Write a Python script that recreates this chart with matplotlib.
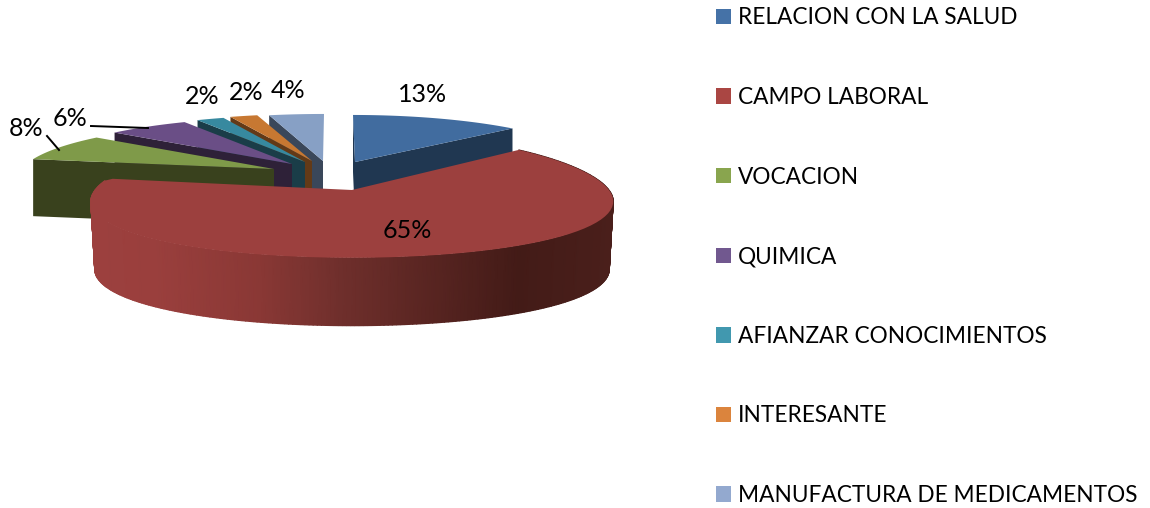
import numpy as np
import matplotlib
matplotlib.use("Agg")
import matplotlib.pyplot as plt
from matplotlib.patches import Patch
from matplotlib.colors import LinearSegmentedColormap

plt.rcParams['font.family'] = ['Lato', 'DejaVu Sans']

categories = ["RELACION CON LA SALUD", "CAMPO LABORAL", "VOCACION", "QUIMICA",
              "AFIANZAR CONOCIMIENTOS", "INTERESANTE", "MANUFACTURA DE MEDICAMENTOS"]
values = [13, 65, 8, 6, 2, 2, 4]

legend_colors = ["#4572A7", "#AA4643", "#89A54E", "#71588F", "#4198AF", "#DB843D", "#93A9CF"]
top_colors = ["#416C9F", "#9C403E", "#7F9A49", "#6A4E86", "#37899F", "#C77832", "#87A0C5"]
side_colors = ["#203751", "#4A1E1A", "#39411D", "#2E2138", "#1A3D48", "#633A17", "#3A475A"]

# where each exploded slice sits on the page, in pixels
apex_x = [355, 352, 274, 292, 305, 312, 323]
apex_y = [162, 190, 169, 164, 162, 161, 161]
radius_x = [240, 257, 252, 252, 252, 252, 252]
radius_y = [54, 62, 54, 54, 54, 54, 54]
persp_x = [0.148, 0.18, 0.148, 0.148, 0.148, 0.148, 0.148]
persp_y = [0.148, 0.085, 0.148, 0.148, 0.148, 0.148, 0.148]
lean_x = [-2, 0, 0, 0, 0, 0, 1]
depth = [57, 68, 57, 57, 57, 57, 57]

label_x = [423, 407, 26, 70, 202, 246, 288]
label_y = [94, 231, 128, 119, 96, 93, 90]


def project(i, t):
    # t in degrees clockwise from the top of the pie
    u = np.sin(np.radians(t))
    v = np.cos(np.radians(t))
    x = apex_x[i] + radius_x[i] * u / (1 + persp_x[i] * v) + lean_x[i] * v
    y = apex_y[i] - radius_y[i] * v / (1 + persp_y[i] * v)
    return x, y


def top_outline(i, t0, t1):
    ts = np.linspace(t0, t1, 80)
    x, y = project(i, ts)
    return np.r_[apex_x[i], x], np.r_[apex_y[i], y]


def cut_face(i, t):
    cx, cy = project(i, t)
    ax.fill([apex_x[i], cx, cx, apex_x[i]],
            [apex_y[i], cy, cy + depth[i], apex_y[i] + depth[i]],
            color=side_colors[i], lw=0)


fig = plt.figure(figsize=(11.5, 5.08), dpi=100)
ax = fig.add_axes([0, 0, 1, 1])
ax.set_xlim(0, 1150)
ax.set_ylim(508, 0)
ax.axis("off")

edges = np.r_[0, np.cumsum(values)] * 360 / sum(values)

# back to front: small slices from the right, then green, blue and red on top
for i in [6, 5, 4, 3, 2, 0]:
    cut_face(i, edges[i])
    if i == 0:
        cut_face(i, edges[i + 1])
    x, y = top_outline(i, edges[i], edges[i + 1])
    ax.fill(x, y, color=top_colors[i], lw=0)

# red rim with the dark-to-light shading, bottom edge a bit narrower
rim_cmap = LinearSegmentedColormap.from_list(
    "rim", [(0, "#9C403E"), (0.12, "#9A3F3D"), (0.32, "#8A3835"), (0.48, "#6F2F2C"),
            (0.82, "#431B17"), (1, "#4A1F1B")])
red_end = edges[2] - 2  # the left corner of the red slice is rounded off
ts = np.linspace(edges[1], red_end, 300)
xs, ys = project(1, ts)
xb = apex_x[1] + (xs - apex_x[1]) * 0.985
rim_x = np.vstack([xs, xb])
rim_y = np.vstack([ys, ys + depth[1]])
shade = (xs - xs.min()) / (xs.max() - xs.min())
ax.pcolormesh(rim_x, rim_y, np.vstack([shade, shade]), cmap=rim_cmap, shading="gouraud",
              vmin=0, vmax=1)
x, y = top_outline(1, edges[1], red_end)
cx, cy = project(1, edges[2])
x = np.r_[x, apex_x[1] + (cx - apex_x[1]) * 0.98]
y = np.r_[y, apex_y[1] + (cy - apex_y[1]) * 0.98]
ax.fill(x, y, color=top_colors[1], lw=0)

# leader lines
ax.plot([47, 59], [136, 150], color="black", lw=1.4)
ax.plot([91, 148], [126, 128], color="black", lw=1.4)

for v, lx, ly in zip(values, label_x, label_y):
    ax.text(lx, ly, f"{v}%", ha="center", va="center", fontsize=18, color="black")

handles = [Patch(facecolor=c, edgecolor="none") for c in legend_colors]
ax.legend(handles, categories, loc="upper left", bbox_to_anchor=(714 / 1150, 1 - 5 / 508),
          frameon=False, fontsize=16.3, handlelength=0.67, handleheight=0.67,
          handletextpad=0.28, labelspacing=2.59, borderaxespad=0, borderpad=0.1)

fig.savefig("out.png", dpi=100)
